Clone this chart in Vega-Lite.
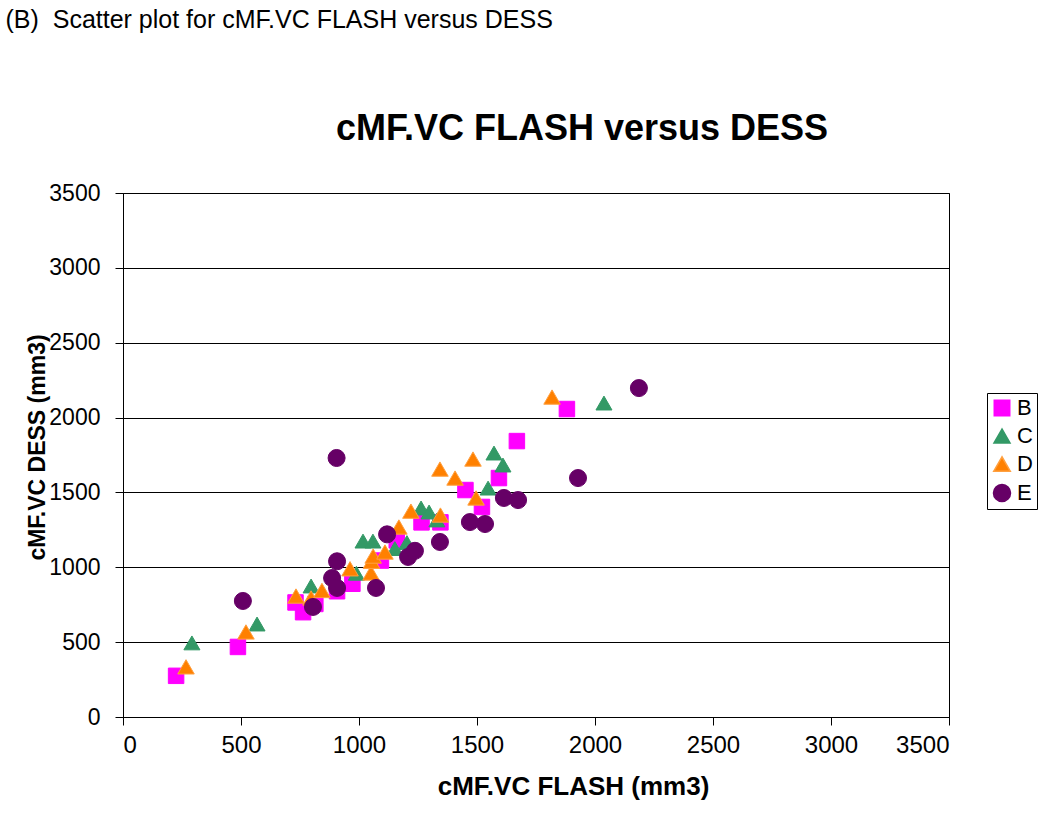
{
  "$schema": "https://vega.github.io/schema/vega-lite/v6.json",
  "background": "white",
  "padding": {"left": 5, "top": 7, "right": 5, "bottom": 5},
  "title": {
    "text": "(B)\u00a0 Scatter plot for cMF.VC FLASH versus DESS",
    "anchor": "start",
    "frame": "bounds",
    "dx": -20,
    "font": "Liberation Sans",
    "fontSize": 25,
    "fontWeight": "normal",
    "color": "#000000",
    "offset": 78
  },
  "vconcat": [
    {
      "width": 826,
      "height": 524,
      "title": {
        "text": "cMF.VC FLASH versus DESS",
        "anchor": "middle",
        "frame": "group",
        "dx": 46,
        "offset": 34,
        "font": "Liberation Sans",
        "fontSize": 36,
        "fontWeight": "bold",
        "color": "#000000"
      },
      "data": {
        "values": [
          {"s": "B", "flash": 225, "dess": 275},
          {"s": "B", "flash": 487, "dess": 468},
          {"s": "B", "flash": 731, "dess": 765},
          {"s": "B", "flash": 763, "dess": 700},
          {"s": "B", "flash": 815, "dess": 755},
          {"s": "B", "flash": 907, "dess": 840},
          {"s": "B", "flash": 972, "dess": 890},
          {"s": "B", "flash": 1093, "dess": 1045},
          {"s": "B", "flash": 1160, "dess": 1180},
          {"s": "B", "flash": 1265, "dess": 1300},
          {"s": "B", "flash": 1345, "dess": 1300},
          {"s": "B", "flash": 1451, "dess": 1516},
          {"s": "B", "flash": 1521, "dess": 1403},
          {"s": "B", "flash": 1593, "dess": 1596},
          {"s": "B", "flash": 1669, "dess": 1843},
          {"s": "B", "flash": 1881, "dess": 2057},
          {"s": "C", "flash": 292, "dess": 495},
          {"s": "C", "flash": 568, "dess": 621},
          {"s": "C", "flash": 797, "dess": 875},
          {"s": "C", "flash": 989, "dess": 960},
          {"s": "C", "flash": 1017, "dess": 1175},
          {"s": "C", "flash": 1059, "dess": 1175},
          {"s": "C", "flash": 1152, "dess": 1125},
          {"s": "C", "flash": 1203, "dess": 1165},
          {"s": "C", "flash": 1263, "dess": 1396},
          {"s": "C", "flash": 1297, "dess": 1369},
          {"s": "C", "flash": 1330, "dess": 1316},
          {"s": "C", "flash": 1547, "dess": 1529},
          {"s": "C", "flash": 1572, "dess": 1763},
          {"s": "C", "flash": 1610, "dess": 1683},
          {"s": "C", "flash": 2038, "dess": 2097},
          {"s": "D", "flash": 267, "dess": 335},
          {"s": "D", "flash": 521, "dess": 568},
          {"s": "D", "flash": 733, "dess": 808},
          {"s": "D", "flash": 797, "dess": 795},
          {"s": "D", "flash": 843, "dess": 845},
          {"s": "D", "flash": 962, "dess": 990},
          {"s": "D", "flash": 1051, "dess": 962},
          {"s": "D", "flash": 1053, "dess": 1040},
          {"s": "D", "flash": 1060, "dess": 1075},
          {"s": "D", "flash": 1110, "dess": 1102},
          {"s": "D", "flash": 1169, "dess": 1269},
          {"s": "D", "flash": 1220, "dess": 1375},
          {"s": "D", "flash": 1345, "dess": 1349},
          {"s": "D", "flash": 1343, "dess": 1656},
          {"s": "D", "flash": 1407, "dess": 1596},
          {"s": "D", "flash": 1483, "dess": 1723},
          {"s": "D", "flash": 1496, "dess": 1463},
          {"s": "D", "flash": 1818, "dess": 2137},
          {"s": "E", "flash": 508, "dess": 775},
          {"s": "E", "flash": 805, "dess": 735},
          {"s": "E", "flash": 886, "dess": 928},
          {"s": "E", "flash": 907, "dess": 1040},
          {"s": "E", "flash": 907, "dess": 862},
          {"s": "E", "flash": 1072, "dess": 862},
          {"s": "E", "flash": 1119, "dess": 1220},
          {"s": "E", "flash": 1208, "dess": 1069},
          {"s": "E", "flash": 1237, "dess": 1110},
          {"s": "E", "flash": 1343, "dess": 1169},
          {"s": "E", "flash": 1470, "dess": 1302},
          {"s": "E", "flash": 1534, "dess": 1289},
          {"s": "E", "flash": 1614, "dess": 1463},
          {"s": "E", "flash": 1674, "dess": 1449},
          {"s": "E", "flash": 905, "dess": 1730},
          {"s": "E", "flash": 1928, "dess": 1596},
          {"s": "E", "flash": 2186, "dess": 2197}
        ]
      },
      "mark": {"type": "point", "filled": true, "opacity": 1, "strokeWidth": 1},
      "encoding": {
        "x": {
          "field": "flash",
          "type": "quantitative",
          "scale": {"domain": [0, 3500], "nice": false},
          "axis": {
            "title": "cMF.VC FLASH (mm3)",
            "format": "d",
            "values": [0, 500, 1000, 1500, 2000, 2500, 3000, 3500],
            "grid": false,
            "tickSize": 8,
            "labelPadding": 8,
            "labelFontSize": 24,
            "titleFontSize": 26,
            "titleX": 450,
            "titleY": 77,
            "titleBaseline": "alphabetic",
            "titleAnchor": "middle",
            "titleAlign": "center"
          }
        },
        "y": {
          "field": "dess",
          "type": "quantitative",
          "scale": {"domain": [0, 3500], "nice": false},
          "axis": {
            "title": "cMF.VC DESS (mm3)",
            "format": "d",
            "values": [0, 500, 1000, 1500, 2000, 2500, 3000, 3500],
            "grid": true,
            "tickSize": 8,
            "labelPadding": 15,
            "labelFontSize": 23,
            "titleFontSize": 23,
            "titleX": -74,
            "titleY": 254,
            "titleAlign": "center",
            "titleBaseline": "bottom"
          }
        },
        "color": {
          "field": "s",
          "type": "nominal",
          "scale": {"domain": ["B", "C", "D", "E"], "range": ["#FF00FF", "#339966", "#FF8000", "#660066"]},
          "legend": {"title": null, "orient": "none", "legendX": 864, "legendY": 200}
        },
        "stroke": {
          "field": "s",
          "type": "nominal",
          "scale": {"domain": ["B", "C", "D", "E"], "range": ["#FF00FF", "#339966", "#FFA040", "#660066"]},
          "legend": {"title": null, "orient": "none", "legendX": 864, "legendY": 200}
        },
        "shape": {
          "field": "s",
          "type": "nominal",
          "scale": {"domain": ["B", "C", "D", "E"], "range": ["square", "triangle-up", "triangle-up", "circle"]},
          "legend": {"title": null, "orient": "none", "legendX": 864, "legendY": 200}
        },
        "size": {
          "field": "s",
          "type": "nominal",
          "scale": {"domain": ["B", "C", "D", "E"], "range": [240, 290, 150, 240]},
          "legend": {"title": null, "orient": "none", "legendX": 864, "legendY": 200}
        }
      }
    }
  ],
  "config": {
    "font": "Liberation Sans",
    "view": {"stroke": "#000000", "strokeWidth": 1},
    "axis": {
      "domainColor": "#000000",
      "tickColor": "#000000",
      "gridColor": "#000000",
      "gridOpacity": 1,
      "gridWidth": 1,
      "labelColor": "#000000",
      "labelFont": "Liberation Sans",
      "labelFontSize": 22,
      "titleColor": "#000000",
      "titleFont": "Liberation Sans",
      "titleFontSize": 22,
      "titleFontWeight": "bold"
    },
    "legend": {
      "strokeColor": "#000000",
      "strokeWidth": 1,
      "padding": 4,
      "labelFont": "Liberation Sans",
      "labelFontSize": 22,
      "labelColor": "#000000",
      "labelOffset": 4,
      "rowPadding": 6,
      "fillColor": "white"
    }
  }
}
